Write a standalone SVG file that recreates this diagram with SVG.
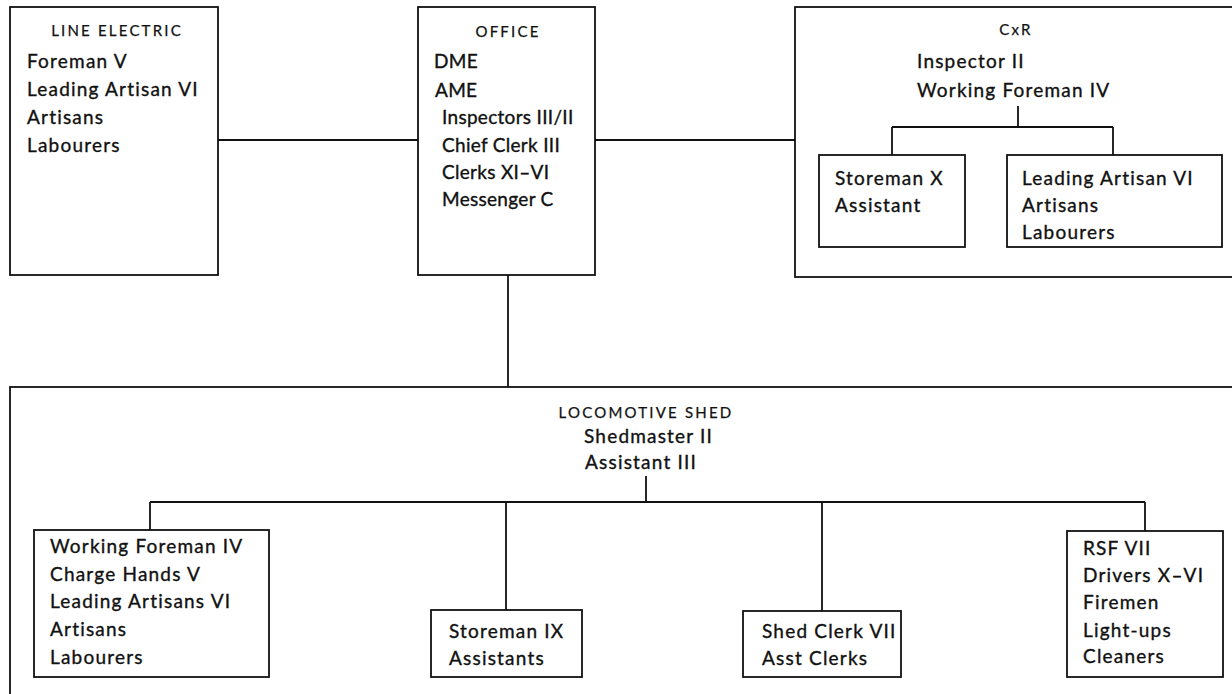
<svg xmlns="http://www.w3.org/2000/svg" width="1232" height="694" viewBox="0 0 1232 694">
<style>
  rect.box { fill: none; stroke: #111; stroke-width: 1.8; }
  .conn path { fill: none; stroke: #111; stroke-width: 1.8; }
  text { font-family: Lato, "Liberation Sans", sans-serif; fill: #111; stroke: #111; stroke-width: 0.35px; }
  .t { font-size: 19px; letter-spacing: 1.2px; }
  .o { letter-spacing: 0.3px; }
  .h { font-size: 15px; letter-spacing: 2.2px; text-anchor: middle; stroke-width: 0.25px; }
</style>
<rect width="1232" height="694" fill="#fff"/>
<g class="conn">
  <path d="M218 140 H418"/>
  <path d="M595 140 H795"/>
  <path d="M508 275 V387"/>
  <path d="M1018 106 V127 M892 127 H1113 M892 127 V155 M1113 127 V155"/>
  <path d="M646 476 V502 M150 502 H1145 M150 502 V530 M506 502 V610 M822 502 V611 M1145 502 V531"/>
</g>
<g id="line-electric">
  <rect class="box" x="10" y="7" width="208" height="268"/>
  <text class="h" x="117" y="36">LINE ELECTRIC</text>
  <text class="t" x="27" y="68">Foreman V</text>
  <text class="t" x="27" y="96">Leading Artisan VI</text>
  <text class="t" x="27" y="124">Artisans</text>
  <text class="t" x="27" y="152">Labourers</text>
</g>
<g id="office">
  <rect class="box" x="418" y="7" width="177" height="268"/>
  <text class="h" x="508" y="37">OFFICE</text>
  <text class="t o" x="434" y="68">DME</text>
  <text class="t o" x="435" y="97">AME</text>
  <text class="t o" x="442" y="124">Inspectors III/II</text>
  <text class="t o" x="442" y="152">Chief Clerk III</text>
  <text class="t o" x="442" y="179">Clerks XI–VI</text>
  <text class="t o" x="442" y="206">Messenger C</text>
</g>
<g id="cxr">
  <rect class="box" x="795" y="7" width="460" height="270"/>
  <text class="h" x="1016" y="35">CxR</text>
  <text class="t" x="917" y="68">Inspector II</text>
  <text class="t" x="917" y="97">Working Foreman IV</text>
</g>
<g id="cxr-storeman">
  <rect class="box" x="819" y="155" width="146" height="92"/>
  <text class="t" x="835" y="185">Storeman X</text>
  <text class="t" x="835" y="212">Assistant</text>
</g>
<g id="cxr-artisans">
  <rect class="box" x="1007" y="155" width="215" height="92"/>
  <text class="t" x="1022" y="185">Leading Artisan VI</text>
  <text class="t" x="1022" y="212">Artisans</text>
  <text class="t" x="1022" y="239">Labourers</text>
</g>
<g id="loco-shed">
  <rect class="box" x="10" y="387" width="1250" height="330"/>
  <text class="h" x="646" y="418">LOCOMOTIVE SHED</text>
  <text class="t" x="584" y="443">Shedmaster II</text>
  <text class="t" x="585" y="469">Assistant III</text>
</g>
<g id="loco-workshop">
  <rect class="box" x="34" y="530" width="235" height="147"/>
  <text class="t" x="50" y="553">Working Foreman IV</text>
  <text class="t" x="50" y="581">Charge Hands V</text>
  <text class="t" x="50" y="608">Leading Artisans VI</text>
  <text class="t" x="50" y="636">Artisans</text>
  <text class="t" x="50" y="664">Labourers</text>
</g>
<g id="loco-store">
  <rect class="box" x="431" y="610" width="151" height="67"/>
  <text class="t" x="449" y="638">Storeman IX</text>
  <text class="t" x="449" y="665">Assistants</text>
</g>
<g id="loco-clerks">
  <rect class="box" x="743" y="611" width="158" height="66"/>
  <text class="t" x="762" y="638">Shed Clerk VII</text>
  <text class="t" x="762" y="665">Asst Clerks</text>
</g>
<g id="loco-running">
  <rect class="box" x="1067" y="531" width="156" height="146"/>
  <text class="t" x="1083" y="555">RSF VII</text>
  <text class="t" x="1083" y="582">Drivers X–VI</text>
  <text class="t" x="1083" y="609">Firemen</text>
  <text class="t" x="1083" y="637">Light-ups</text>
  <text class="t" x="1083" y="663">Cleaners</text>
</g>
</svg>
